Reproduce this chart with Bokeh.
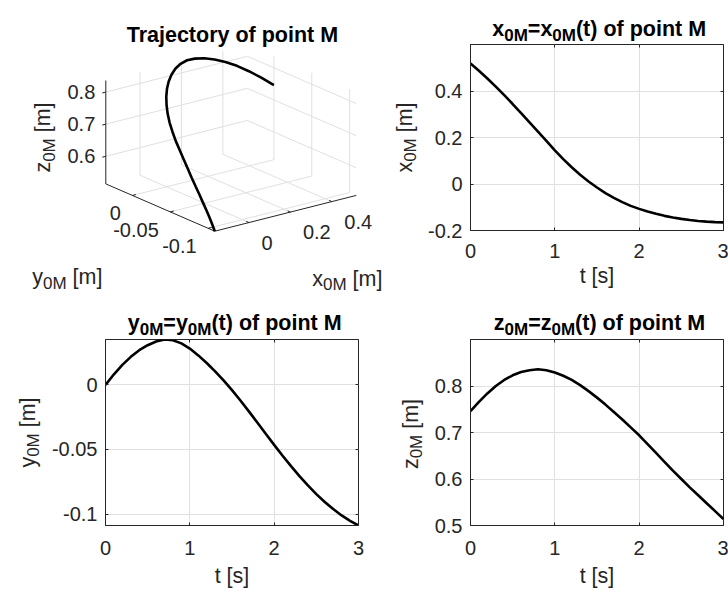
import math
from bokeh.plotting import figure
from bokeh.models import Range1d, Label, FixedTicker, LinearAxis, CustomJSTickFormatter, Spacer
from bokeh.layouts import column, row
from bokeh.embed import file_html
from bokeh.resources import INLINE

FONT = "Liberation Sans"
AXC = "#262626"
GRIDC = "#e0e0e0"
W, H = 728, 594

# ---------------- data ----------------
t = [0.0, 0.1, 0.2, 0.3, 0.4, 0.5, 0.6, 0.7, 0.8, 0.9, 1.0,
     1.1, 1.2, 1.3, 1.4, 1.5, 1.6, 1.7, 1.8, 1.9, 2.0,
     2.1, 2.2, 2.3, 2.4, 2.5, 2.6, 2.7, 2.8, 2.9, 3.0]
x0M = [0.518, 0.487, 0.454, 0.419, 0.382, 0.344, 0.305, 0.265, 0.225, 0.185, 0.145,
       0.107, 0.072, 0.040, 0.011, -0.015, -0.039, -0.060, -0.078, -0.094, -0.107,
       -0.118, -0.128, -0.137, -0.144, -0.150, -0.155, -0.159, -0.162, -0.164, -0.165]
y0M = [0.0, 0.0082, 0.0155, 0.0217, 0.0268, 0.0307, 0.0336, 0.0351, 0.0345, 0.0321, 0.0281,
       0.0228, 0.0169, 0.0104, 0.0034, -0.0041, -0.0121, -0.0205, -0.0291, -0.0378, -0.0464,
       -0.0548, -0.0629, -0.0706, -0.0778, -0.0845, -0.0906, -0.0961, -0.1010, -0.1052, -0.1088]
z0M = [0.746, 0.766, 0.784, 0.800, 0.813, 0.823, 0.830, 0.834, 0.836, 0.834, 0.829,
       0.822, 0.813, 0.802, 0.789, 0.775, 0.760, 0.744, 0.728, 0.711, 0.694,
       0.675, 0.656, 0.637, 0.618, 0.600, 0.582, 0.565, 0.548, 0.531, 0.514]

t_ticks = [0, 1, 2, 3]
t_tick_labels = ["0", "1", "2", "3"]
x_ticks = [-0.2, 0, 0.2, 0.4]
x_tick_labels = ["-0.2", "0", "0.2", "0.4"]
y_ticks = [-0.1, -0.05, 0]
y_tick_labels = ["-0.1", "-0.05", "0"]
z_ticks = [0.5, 0.6, 0.7, 0.8]
z_tick_labels = ["0.5", "0.6", "0.7", "0.8"]
x3_ticks = [0, 0.2, 0.4]
x3_tick_labels = ["0", "0.2", "0.4"]
y3_ticks = [-0.1, -0.05, 0]
y3_tick_labels = ["-0.1", "-0.05", "0"]
z3_ticks = [0.6, 0.7, 0.8]
z3_tick_labels = ["0.6", "0.7", "0.8"]

# ---------------- text helpers (Arial / Liberation Sans metrics) ----------------
REG = {" ": 278, "[": 278, "]": 278, "m": 833, "s": 500, "t": 278, "x": 500, "y": 500,
       "z": 500, "M": 833, "0": 556}
BOLD = {" ": 278, "(": 333, ")": 333, "=": 584, "M": 833, "T": 611, "a": 556, "c": 556,
        "e": 556, "f": 333, "i": 278, "j": 278, "n": 611, "o": 611, "p": 611, "r": 389,
        "t": 333, "x": 556, "y": 556, "z": 500, "0": 556}


def tw(s, size, bold):
    tbl = BOLD if bold else REG
    return sum(tbl.get(c, 556) for c in s) / 1000.0 * size


# overlay figure: its frame covers the whole page, data units == page pixels (y down)
pt = figure(width=W, height=H, x_range=Range1d(0, W), y_range=Range1d(H, 0),
            output_backend="svg", toolbar_location=None, title=None, min_border=0,
            x_axis_location=None, y_axis_location=None, margin=(-H, 0, 0, 0))
pt.background_fill_alpha = 0
pt.border_fill_alpha = 0
pt.outline_line_color = None
pt.grid.visible = False


def lab(px, py, text, size=20, bold=False, color=AXC, align="left",
        baseline="alphabetic", angle=0.0):
    pt.add_layout(Label(x=px, y=py, text=text, angle=angle, text_align=align,
                        text_baseline=baseline, text_font=FONT,
                        text_font_size=f"{size}px",
                        text_font_style="bold" if bold else "normal",
                        text_color=color))


def rich(parts, x, y, angle=0.0, bold=False, color=AXC, anchor="center"):
    total = sum(tw(s, sz, bold) for s, sz, sh in parts)
    pos = -total / 2.0 if anchor == "center" else 0.0
    c, s_ = math.cos(angle), math.sin(angle)
    for s, sz, sh in parts:
        lead = len(s) - len(s.lstrip(" "))
        pos += tw(" " * lead, sz, bold)
        body = s.strip(" ")
        px = x + pos * c + sh * s_
        py = y - pos * s_ + sh * c
        lab(px, py, body, size=sz, bold=bold, color=color, angle=angle)
        pos += tw(s.lstrip(" "), sz, bold)


MAIN = 21.5
SUB = 17
SH = 6


def sub_parts(letter, rest):
    return [(letter, MAIN, 0), ("0M", SUB, SH), (rest, MAIN, 0)]


def title_parts(letter):
    return [(letter, MAIN, 0), ("0M", SUB, SH + 1), ("=" + letter, MAIN, 0),
            ("0M", SUB, SH + 1), ("(t) of point M", MAIN, 0)]


# ---------------- 2D subplots ----------------
def make2d(origin, width, left, right, top, bottom, vals, yr, yticks, ylabels, xstand):
    height = 297
    fl = origin[0] + left
    fr = origin[0] + width - right
    p = figure(width=width, height=height, x_range=Range1d(0, 3), y_range=Range1d(*yr),
               output_backend="svg", toolbar_location=None, title=None,
               min_border_left=left, min_border_right=right,
               min_border_top=top, min_border_bottom=bottom)
    p.outline_line_color = AXC
    p.outline_line_width = 1

    xt = FixedTicker(ticks=t_ticks)
    yt = FixedTicker(ticks=yticks)
    p.xaxis.ticker = xt
    p.yaxis.ticker = yt
    p.xgrid.ticker = xt
    p.ygrid.ticker = yt
    p.xaxis.major_label_overrides = dict(zip(t_ticks, t_tick_labels))
    p.yaxis.major_label_overrides = dict(zip(yticks, ylabels))
    for ax in (p.xaxis[0], p.yaxis[0]):
        ax.axis_line_color = AXC
        ax.major_tick_line_color = AXC
        ax.major_tick_in = 3
        ax.major_tick_out = 0
        ax.minor_tick_line_color = None
        ax.major_label_text_font = FONT
        ax.major_label_text_font_size = "20px"
        ax.major_label_text_color = AXC
    p.xaxis.major_label_standoff = xstand
    p.yaxis.major_label_standoff = 8
    p.grid.grid_line_color = GRIDC
    p.grid.grid_line_width = 1

    for loc, tk in (("right", yt), ("above", xt)):
        ax = LinearAxis(ticker=tk, formatter=CustomJSTickFormatter(code="return ''"),
                        axis_line_color=None, major_tick_line_color=AXC,
                        major_tick_in=3, major_tick_out=0, minor_tick_line_color=None,
                        major_label_standoff=0, major_label_text_font_size="1px")
        p.add_layout(ax, loc)

    p.line(t, vals, line_color="black", line_width=2.6)
    return p, (fl + fr) / 2.0


p2, c2 = make2d((388, 0), 340, 82, 5, 44, 67, x0M, (-0.2, 0.6), x_ticks, x_tick_labels, 13)
p3, c3 = make2d((0, 297), 364, 105, 6, 42, 69, y0M, (min(y0M), max(y0M)), y_ticks, y_tick_labels, 15)
p4, c4 = make2d((364, 297), 364, 106, 5, 42, 69, z0M, (0.5, 0.9), z_ticks, z_tick_labels, 15)

rich(title_parts("x"), 598.7, 28.3, bold=True, color="black")
rich(sub_parts("x", " [m]"), 404, 137, angle=math.pi / 2)
rich([("t [s]", MAIN, 0)], c2, 275)

rich(title_parts("y"), 234.2, 322, bold=True, color="black")
rich(sub_parts("y", " [m]"), 27, 432, angle=math.pi / 2)
rich([("t [s]", MAIN, 0)], c3, 575)

rich(title_parts("z"), 599, 322, bold=True, color="black")
rich(sub_parts("z", " [m]"), 410, 433.5, angle=math.pi / 2)
rich([("t [s]", MAIN, 0)], c4, 575)

# ---------------- 3D trajectory (MATLAB default view az=-37.5, el=30) ----------------
XL = (min(x0M), max(x0M))
YL = (min(y0M), max(y0M))
ZL = (min(z0M), max(z0M))
O = (214.3, 230.7)
VX = (141.5, -35.8)
VY = (-109.0, -47.3)
VZ = (0.0, -103.4)


def proj(xv, yv, zv):
    a = (xv - XL[0]) / (XL[1] - XL[0])
    b = (yv - YL[0]) / (YL[1] - YL[0])
    c = (zv - ZL[0]) / (ZL[1] - ZL[0])
    return (O[0] + a * VX[0] + b * VY[0] + c * VZ[0],
            O[1] + a * VX[1] + b * VY[1] + c * VZ[1])


def seg(p, q):
    a, b = proj(*p), proj(*q)
    return [a[0], b[0]], [a[1], b[1]]


gx, gy = [], []
for xv in x3_ticks:
    for s in (seg((xv, YL[0], ZL[0]), (xv, YL[1], ZL[0])),
              seg((xv, YL[1], ZL[0]), (xv, YL[1], ZL[1]))):
        gx.append(s[0]); gy.append(s[1])
for yv in y3_ticks:
    for s in (seg((XL[0], yv, ZL[0]), (XL[1], yv, ZL[0])),
              seg((XL[1], yv, ZL[0]), (XL[1], yv, ZL[1]))):
        gx.append(s[0]); gy.append(s[1])
for zv in z3_ticks:
    for s in (seg((XL[0], YL[1], zv), (XL[1], YL[1], zv)),
              seg((XL[1], YL[0], zv), (XL[1], YL[1], zv))):
        gx.append(s[0]); gy.append(s[1])
pt.multi_line(gx, gy, line_color=GRIDC, line_width=1)

ax_x, ax_y = [], []
for s in (seg((XL[0], YL[0], ZL[0]), (XL[1], YL[0], ZL[0])),
          seg((XL[0], YL[0], ZL[0]), (XL[0], YL[1], ZL[0])),
          seg((XL[0], YL[1], ZL[0]), (XL[0], YL[1], ZL[1]))):
    ax_x.append(s[0]); ax_y.append(s[1])
tk = 0.025
for xv in x3_ticks:
    a, b = proj(xv, YL[0], ZL[0])
    ax_x.append([a, a + tk * VY[0]]); ax_y.append([b, b + tk * VY[1]])
for yv in y3_ticks:
    a, b = proj(XL[0], yv, ZL[0])
    ax_x.append([a, a + tk * VX[0]]); ax_y.append([b, b + tk * VX[1]])
for zv in z3_ticks:
    a, b = proj(XL[0], YL[1], zv)
    ax_x.append([a, a - tk * VX[0]]); ax_y.append([b, b - tk * VX[1]])
pt.multi_line(ax_x, ax_y, line_color=AXC, line_width=1)

cx, cy = [], []
for xv, yv, zv in zip(x0M, y0M, z0M):
    a, b = proj(xv, yv, zv)
    cx.append(a); cy.append(b)
pt.line(cx, cy, line_color="black", line_width=2.6)

for xv, s in zip(x3_ticks, x3_tick_labels):
    a, b = proj(xv, YL[0], ZL[0])
    lab(a + 12.5, b + 20.3, s, align="left", baseline="middle")
for yv, s in zip(y3_ticks, y3_tick_labels):
    a, b = proj(XL[0], yv, ZL[0])
    lab(a - 11.5, b + 18.0, s, align="right", baseline="middle")
for zv, s in zip(z3_ticks, z3_tick_labels):
    a, b = proj(XL[0], YL[1], zv)
    lab(a - 10.5, b, s, align="right", baseline="middle")

rich([("Trajectory of point M", MAIN, 0)], 232.5, 34.3, bold=True, color="black")
rich(sub_parts("z", " [m]"), 42.5, 137, angle=math.pi / 2)
rich(sub_parts("y", " [m]"), 31.7, 276.5, anchor="left")
rich(sub_parts("x", " [m]"), 311.7, 278, anchor="left")

grid = column(row(Spacer(width=388, height=297), p2), row(p3, p4))
layout = column(grid, pt)
open("out.html", "w").write(file_html(layout, INLINE))
